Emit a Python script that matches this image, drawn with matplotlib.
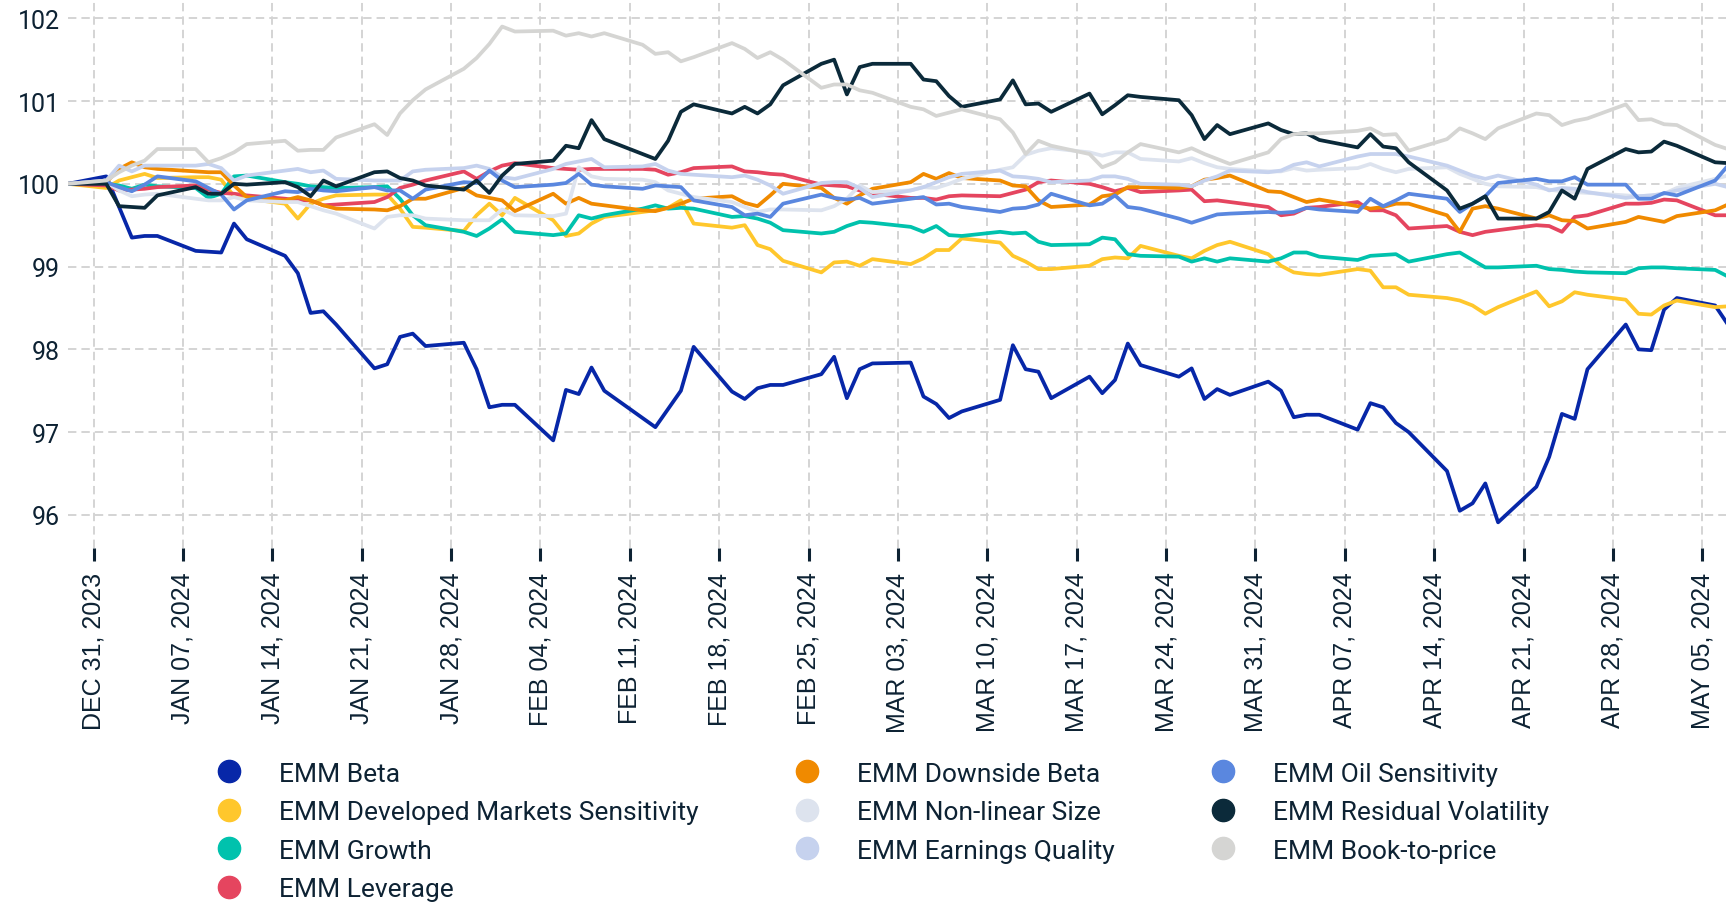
import numpy as np
import pandas as pd
import matplotlib
matplotlib.use("Agg")
import matplotlib.pyplot as plt
from matplotlib.lines import Line2D

# business days, rebased to 100 on the last trading day of 2023
dates = pd.bdate_range("2023-12-29", "2024-05-08")

emm_beta = [
    100.00, 100.09, 99.72, 99.35, 99.37, 99.37,
    99.19, 99.18, 99.17, 99.52, 99.33,
    99.13, 98.92, 98.44, 98.46, 98.30,
    97.77, 97.82, 98.15, 98.19, 98.04,
    98.08, 97.76, 97.30, 97.33, 97.33,
    96.90, 97.51, 97.46, 97.78, 97.50,
    97.17, 97.06, 97.28, 97.50, 98.03,
    97.49, 97.40, 97.53, 97.57, 97.57,
    97.70, 97.91, 97.41, 97.76, 97.83,
    97.84, 97.43, 97.34, 97.17, 97.25,
    97.39, 98.05, 97.76, 97.73, 97.41,
    97.67, 97.47, 97.63, 98.07, 97.81,
    97.67, 97.77, 97.40, 97.52, 97.45,
    97.61, 97.50, 97.18, 97.21, 97.21,
    97.03, 97.35, 97.30, 97.11, 97.00,
    96.53, 96.05, 96.14, 96.38, 95.91,
    96.34, 96.70, 97.22, 97.16, 97.76,
    98.30, 98.00, 97.99, 98.48, 98.62,
    98.53, 98.30, 98.10,
]
emm_dev_mkts = [
    100.00, 99.95, 100.04, 100.08, 100.12, 100.07,
    100.08, 100.08, 100.05, 99.85, 99.82,
    99.76, 99.58, 99.76, 99.82, 99.86,
    99.87, 99.87, 99.70, 99.48, 99.47,
    99.43, 99.62, 99.76, 99.62, 99.83,
    99.56, 99.37, 99.40, 99.52, 99.60,
    99.66, 99.68, 99.71, 99.80, 99.52,
    99.47, 99.50, 99.26, 99.21, 99.07,
    98.93, 99.05, 99.06, 99.01, 99.09,
    99.03, 99.10, 99.20, 99.20, 99.34,
    99.29, 99.13, 99.06, 98.97, 98.97,
    99.01, 99.09, 99.11, 99.10, 99.25,
    99.13, 99.10, 99.19, 99.26, 99.30,
    99.15, 99.01, 98.93, 98.91, 98.90,
    98.97, 98.95, 98.75, 98.75, 98.66,
    98.62, 98.59, 98.53, 98.43, 98.51,
    98.70, 98.52, 98.58, 98.69, 98.66,
    98.60, 98.43, 98.42, 98.53, 98.59,
    98.51, 98.52, 98.55,
]
emm_growth = [
    100.00, 100.00, 99.98, 99.94, 99.99, 99.97,
    99.95, 99.83, 99.88, 100.09, 100.10,
    100.02, 100.00, 99.97, 99.96, 99.95,
    99.96, 99.97, 99.82, 99.62, 99.50,
    99.42, 99.37, 99.46, 99.57, 99.42,
    99.38, 99.40, 99.62, 99.58, 99.62,
    99.70, 99.74, 99.70, 99.71, 99.70,
    99.60, 99.61, 99.58, 99.53, 99.44,
    99.40, 99.42, 99.49, 99.54, 99.53,
    99.48, 99.42, 99.49, 99.38, 99.37,
    99.42, 99.40, 99.41, 99.30, 99.26,
    99.27, 99.35, 99.33, 99.15, 99.13,
    99.12, 99.06, 99.10, 99.06, 99.10,
    99.06, 99.10, 99.17, 99.17, 99.12,
    99.08, 99.13, 99.14, 99.15, 99.06,
    99.15, 99.17, 99.08, 98.99, 98.99,
    99.01, 98.97, 98.96, 98.94, 98.93,
    98.92, 98.98, 98.99, 98.99, 98.98,
    98.96, 98.88, 98.85,
]
emm_leverage = [
    100.00, 99.98, 99.92, 99.93, 99.94, 99.96,
    99.98, 99.93, 99.89, 99.88, 99.86,
    99.82, 99.80, 99.80, 99.74, 99.75,
    99.78, 99.84, 99.95, 99.99, 100.04,
    100.15, 100.06, 100.15, 100.22, 100.25,
    100.19, 100.18, 100.17, 100.18, 100.18,
    100.18, 100.17, 100.11, 100.14, 100.19,
    100.21, 100.15, 100.14, 100.12, 100.11,
    99.99, 99.98, 99.97, 99.92, 99.88,
    99.83, 99.83, 99.81, 99.85, 99.86,
    99.85, 99.89, 99.93, 100.02, 100.04,
    100.00, 99.96, 99.91, 99.95, 99.90,
    99.92, 99.93, 99.79, 99.80, 99.78,
    99.72, 99.62, 99.64, 99.71, 99.72,
    99.78, 99.68, 99.68, 99.62, 99.46,
    99.49, 99.42, 99.38, 99.42, 99.44,
    99.50, 99.49, 99.42, 99.60, 99.62,
    99.76, 99.76, 99.77, 99.81, 99.80,
    99.62, 99.62, 99.62,
]
emm_downside_beta = [
    100.00, 100.02, 100.18, 100.26, 100.20, 100.18,
    100.15, 100.14, 100.14, 99.98, 99.84,
    99.80, 99.84, 99.80, 99.74, 99.70,
    99.69, 99.68, 99.73, 99.82, 99.82,
    99.95, 99.86, 99.83, 99.80, 99.67,
    99.88, 99.76, 99.83, 99.76, 99.74,
    99.68, 99.67, 99.71, 99.76, 99.82,
    99.85, 99.77, 99.73, 99.86, 100.00,
    99.95, 99.83, 99.76, 99.86, 99.94,
    100.02, 100.12, 100.06, 100.13, 100.07,
    100.04, 99.98, 99.97, 99.80, 99.72,
    99.75, 99.85, 99.87, 99.96, 99.96,
    99.95, 99.97, 100.05, 100.07, 100.10,
    99.91, 99.90, 99.84, 99.78, 99.81,
    99.73, 99.70, 99.72, 99.76, 99.76,
    99.62, 99.42, 99.70, 99.73, 99.70,
    99.58, 99.62, 99.56, 99.55, 99.46,
    99.54, 99.60, 99.57, 99.54, 99.61,
    99.68, 99.75, 99.78,
]
emm_nonlinear_size = [
    100.00, 100.02, 99.92, 99.85, 99.87, 99.88,
    99.82, 99.80, 99.80, 99.84, 99.80,
    99.78, 99.78, 99.73, 99.68, 99.64,
    99.46, 99.60, 99.62, 99.62, 99.58,
    99.56, 99.56, 99.56, 99.69, 99.62,
    99.61, 99.64, 100.20, 100.09, 100.06,
    100.05, 100.02, 99.92, 99.88, 99.84,
    99.78, 99.72, 99.66, 99.69, 99.69,
    99.68, 99.73, 99.82, 99.98, 99.90,
    99.92, 99.96, 99.95, 100.00, 100.06,
    100.17, 100.20, 100.35, 100.40, 100.43,
    100.38, 100.34, 100.38, 100.38, 100.30,
    100.27, 100.31, 100.25, 100.20, 100.18,
    100.15, 100.15, 100.19, 100.16, 100.17,
    100.19, 100.24, 100.18, 100.14, 100.18,
    100.20, 100.12, 100.06, 100.00, 99.97,
    99.96, 99.93, 99.91, 99.90, 99.89,
    99.86, 99.85, 99.86, 99.88, 99.95,
    100.06, 100.10, 100.13,
]
emm_earnings_quality = [
    100.00, 100.04, 100.22, 100.15, 100.22, 100.22,
    100.22, 100.24, 100.19, 100.04, 100.10,
    100.16, 100.18, 100.14, 100.16, 100.06,
    100.04, 100.04, 100.04, 100.15, 100.17,
    100.19, 100.22, 100.18, 100.08, 100.06,
    100.18, 100.24, 100.27, 100.30, 100.20,
    100.21, 100.24, 100.16, 100.12, 100.11,
    100.08, 100.10, 100.05, 99.98, 99.88,
    100.01, 100.02, 100.02, 99.95, 99.84,
    99.92, 99.96, 100.02, 100.08, 100.12,
    100.16, 100.09, 100.08, 100.06, 100.02,
    100.04, 100.09, 100.09, 100.06, 100.00,
    99.99, 99.97, 100.04, 100.09, 100.16,
    100.14, 100.16, 100.23, 100.26, 100.21,
    100.33, 100.36, 100.36, 100.36, 100.33,
    100.22, 100.16, 100.10, 100.06, 100.10,
    99.99, 99.92, 99.95, 99.94, 99.90,
    99.83, 99.85, 99.86, 99.88, 99.92,
    100.00, 99.96, 99.94,
]
emm_oil = [
    100.00, 100.02, 99.96, 99.91, 99.99, 100.09,
    100.03, 99.95, 99.87, 99.69, 99.80,
    99.91, 99.90, 99.94, 99.92, 99.91,
    99.96, 99.92, 99.92, 99.82, 99.93,
    100.02, 100.01, 100.16, 100.04, 99.96,
    99.99, 100.01, 100.12, 99.99, 99.97,
    99.94, 99.98, 99.97, 99.96, 99.80,
    99.72, 99.62, 99.64, 99.60, 99.76,
    99.87, 99.83, 99.81, 99.83, 99.76,
    99.82, 99.84, 99.75, 99.76, 99.72,
    99.66, 99.70, 99.71, 99.75, 99.88,
    99.74, 99.76, 99.86, 99.72, 99.70,
    99.58, 99.53, 99.58, 99.63, 99.64,
    99.66, 99.65, 99.66, 99.71, 99.69,
    99.66, 99.82, 99.73, 99.80, 99.88,
    99.82, 99.66, 99.76, 99.85, 100.01,
    100.06, 100.03, 100.03, 100.08, 99.99,
    99.99, 99.82, 99.82, 99.89, 99.86,
    100.04, 100.22, 100.32,
]
emm_resid_vol = [
    100.00, 100.00, 99.73, 99.72, 99.71, 99.86,
    99.96, 99.88, 99.88, 100.00, 99.99,
    100.02, 99.96, 99.85, 100.04, 99.97,
    100.14, 100.15, 100.07, 100.04, 99.98,
    99.93, 100.04, 99.89, 100.10, 100.24,
    100.28, 100.46, 100.43, 100.77, 100.54,
    100.36, 100.30, 100.52, 100.87, 100.96,
    100.85, 100.93, 100.85, 100.96, 101.19,
    101.45, 101.50, 101.08, 101.41, 101.45,
    101.45, 101.26, 101.24, 101.06, 100.93,
    101.02, 101.25, 100.96, 100.97, 100.87,
    101.09, 100.84, 100.95, 101.07, 101.05,
    101.01, 100.83, 100.54, 100.71, 100.60,
    100.73, 100.65, 100.60, 100.61, 100.53,
    100.44, 100.60, 100.45, 100.43, 100.26,
    99.92, 99.70, 99.76, 99.85, 99.58,
    99.58, 99.66, 99.92, 99.82, 100.18,
    100.42, 100.38, 100.39, 100.51, 100.46,
    100.26, 100.25, 100.24,
]
emm_book_to_price = [
    100.00, 100.04, 100.14, 100.22, 100.28, 100.42,
    100.42, 100.26, 100.31, 100.38, 100.48,
    100.52, 100.40, 100.41, 100.41, 100.56,
    100.72, 100.59, 100.85, 101.01, 101.14,
    101.39, 101.52, 101.69, 101.90, 101.84,
    101.85, 101.79, 101.82, 101.78, 101.82,
    101.68, 101.57, 101.59, 101.48, 101.53,
    101.70, 101.63, 101.52, 101.59, 101.50,
    101.16, 101.20, 101.20, 101.13, 101.10,
    100.93, 100.90, 100.82, 100.86, 100.90,
    100.78, 100.62, 100.36, 100.52, 100.46,
    100.36, 100.20, 100.26, 100.38, 100.48,
    100.38, 100.43, 100.36, 100.30, 100.24,
    100.38, 100.54, 100.60, 100.61, 100.61,
    100.64, 100.67, 100.59, 100.60, 100.40,
    100.54, 100.67, 100.61, 100.54, 100.67,
    100.85, 100.83, 100.71, 100.76, 100.79,
    100.96, 100.77, 100.78, 100.72, 100.71,
    100.47, 100.42, 100.40,
]

names = [
    "EMM Beta", "EMM Developed Markets Sensitivity", "EMM Growth", "EMM Leverage",
    "EMM Downside Beta", "EMM Non-linear Size", "EMM Earnings Quality",
    "EMM Oil Sensitivity", "EMM Residual Volatility", "EMM Book-to-price",
]
values = [
    emm_beta, emm_dev_mkts, emm_growth, emm_leverage, emm_downside_beta,
    emm_nonlinear_size, emm_earnings_quality, emm_oil, emm_resid_vol, emm_book_to_price,
]
colors = [
    "#0727a8", "#ffc72c", "#00c2ad", "#e5455f", "#f08a00",
    "#dde3ee", "#c6d2ee", "#5a87df", "#0b2a3a", "#d5d5d3",
]

navy = "#0d2233"

fig = plt.figure(figsize=(17.26, 9.04), dpi=100)
ax = fig.add_axes([68 / 1726, 1 - 549 / 904, 1 - 68 / 1726, 549 / 904])

for vals, c in zip(values, colors):
    ax.plot(dates, vals, color=c, lw=2.7)

ticks = pd.date_range("2023-12-31", periods=19, freq="7D")
ax.set_xticks(ticks)
ax.set_xticklabels([d.strftime("%b %d, %Y").upper() for d in ticks],
                   rotation=90, fontsize=18, family="Liberation Sans", color=navy)
ax.set_xlim(pd.Timestamp("2023-12-29"), pd.Timestamp("2023-12-31") + pd.Timedelta(days=127.85))

ax.set_yticks(range(96, 103))
ax.set_yticklabels([str(v) for v in range(96, 103)], fontsize=18, family="Roboto", color=navy)
ax.set_ylim(95.60, 102.233)

ax.grid(True, color="#d4d4d4", lw=1.4, linestyle=(0, (4.3, 2.6)))
ax.set_axisbelow(True)
for s in ax.spines.values():
    s.set_visible(False)
ax.tick_params(axis="x", length=9, width=2.2, color=navy, pad=8)
ax.tick_params(axis="y", length=0, pad=6)

handles = [Line2D([], [], marker="o", ls="", ms=16, mfc=c, mec=c) for c in colors]
fig.legend(handles, names, loc="upper left", bbox_to_anchor=(215.8 / 1726, 1 - 762.6 / 904),
           ncol=3, frameon=False, handlelength=1.0, handletextpad=1.4, columnspacing=3.6,
           labelspacing=0.55, borderpad=0, borderaxespad=0,
           prop={"family": "Roboto", "size": 19}, labelcolor=navy)

fig.savefig("out.png", dpi=100)
